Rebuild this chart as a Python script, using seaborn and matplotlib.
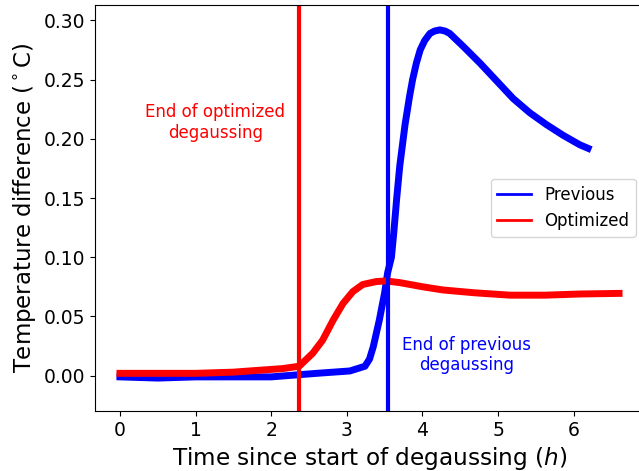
import matplotlib
matplotlib.use("Agg")
import matplotlib.pyplot as plt
import numpy as np
import pandas as pd
import seaborn as sns

BLUE = "#0000ff"
RED = "#ff0000"

# time since start of degaussing (h) and temperature difference (deg C)
prev_t = [0.0, 0.5, 1.0, 1.5, 2.0, 2.6, 3.04, 3.24, 3.30, 3.35, 3.43, 3.50, 3.54,
          3.59, 3.62, 3.66, 3.70, 3.77, 3.83, 3.87, 3.92, 3.97, 4.03, 4.10, 4.16,
          4.23, 4.30, 4.36, 4.54, 4.76, 4.98, 5.20, 5.42, 5.64, 5.86, 6.08, 6.19]
prev_v = [-0.001, -0.002, -0.001, -0.001, -0.001, 0.002, 0.004, 0.008, 0.014, 0.0245,
          0.047, 0.070, 0.087, 0.100, 0.120, 0.150, 0.177, 0.212, 0.236, 0.250, 0.264,
          0.275, 0.283, 0.289, 0.291, 0.292, 0.291, 0.289, 0.278, 0.264, 0.249, 0.234,
          0.222, 0.212, 0.203, 0.195, 0.192]

opt_t = [0.0, 0.5, 1.0, 1.5, 1.71, 2.15, 2.37, 2.55, 2.68, 2.82, 2.95, 3.08, 3.21,
         3.39, 3.52, 3.70, 4.01, 4.27, 4.69, 5.16, 5.62, 6.09, 6.6]
opt_v = [0.002, 0.002, 0.002, 0.003, 0.004, 0.006, 0.008, 0.019, 0.030, 0.047, 0.061,
         0.071, 0.077, 0.0795, 0.080, 0.0786, 0.075, 0.0724, 0.070, 0.068, 0.068,
         0.069, 0.0695]

end_optimized = 2.37
end_previous = 3.55

df = pd.concat([
    pd.DataFrame({"t": prev_t, "dT": prev_v, "run": "Previous"}),
    pd.DataFrame({"t": opt_t, "dT": opt_v, "run": "Optimized"}),
], ignore_index=True)

fig = plt.figure(figsize=(6.39, 4.71), dpi=100)
ax = fig.add_axes([95 / 639, 60 / 471, 549 / 639, 406 / 471])

sns.lineplot(data=df, x="t", y="dT", hue="run", hue_order=["Previous", "Optimized"],
             palette=[BLUE, RED], estimator=None, linewidth=5, ax=ax)

ax.axvline(end_optimized, color=RED, lw=3)
ax.axvline(end_previous, color=BLUE, lw=3)

ax.text(1.26, 0.2136, "End of optimized\ndegaussing", color=RED, fontsize=12,
        ha="center", va="center", multialignment="center")
ax.text(4.58, 0.0175, "End of previous\ndegaussing", color=BLUE, fontsize=12,
        ha="center", va="center", multialignment="center")

ax.set_xlim(-0.33, 6.93)
ax.set_ylim(-0.0298, 0.313)
ax.set_xticks(range(7))
ax.set_yticks(np.arange(0, 0.31, 0.05))
ax.tick_params(labelsize=13.5)
ax.set_xlabel("Time since start of degaussing ($h$)", fontsize=16.7)
ax.set_ylabel("Temperature difference ($^\\circ$C)", fontsize=16.5)

leg = ax.legend(loc="center right", fontsize=12)
for line in leg.get_lines():
    line.set_linewidth(2)

fig.savefig("out.png", dpi=100)
